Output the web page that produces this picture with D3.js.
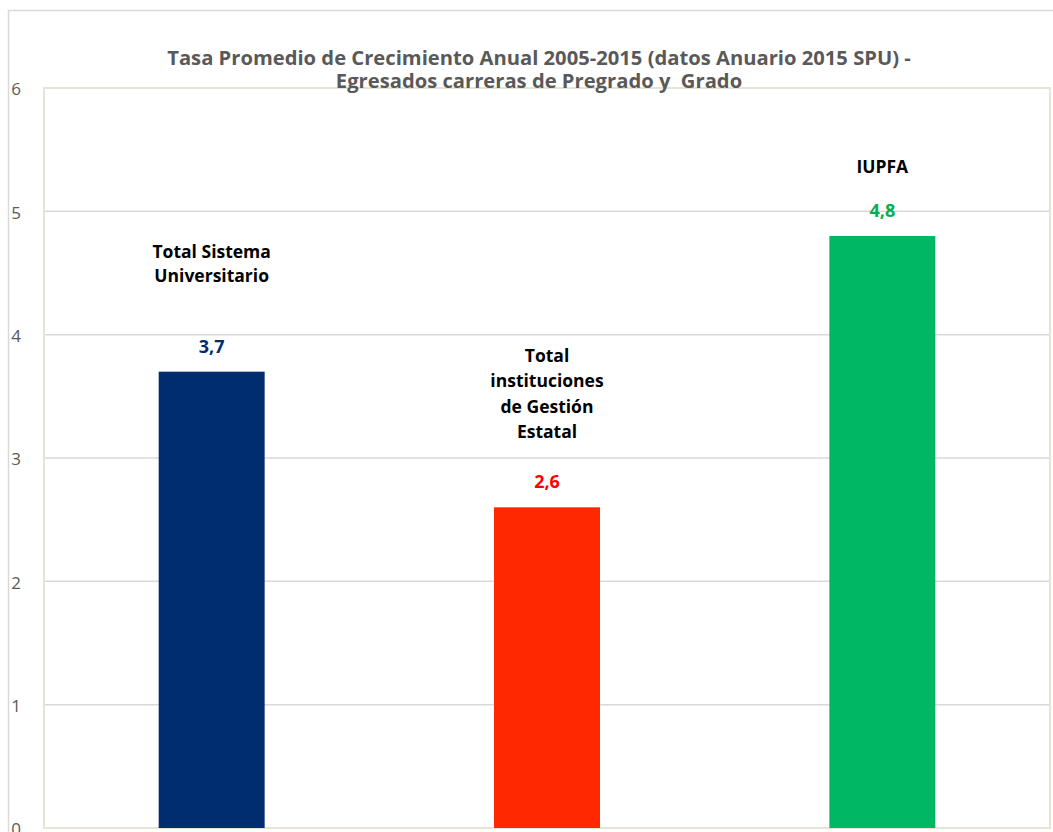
<!DOCTYPE html>
<html><head><meta charset="utf-8">
<script src="https://cdn.jsdelivr.net/npm/d3@7"></script>
<style>body{margin:0;background:#fff}svg{display:block}</style>
</head><body>
<svg id="c" width="1053" height="832"></svg>
<script>
const categories = ["Total Sistema Universitario", "Total instituciones de Gestión Estatal", "IUPFA"];
const categoryLines = [["Total Sistema", "Universitario"], ["Total", "instituciones", "de Gestión", "Estatal"], ["IUPFA"]];
const categoryLabelLevel = [4.67, 3.83, 5.36];
const values = [3.7, 2.6, 4.8];
const valueLabels = ["3,7", "2,6", "4,8"];
const barColors = ["#002d6d", "#ff2800", "#00b863"];
const labelColors = ["#002d6d", "#ff0000", "#00b050"];
const yTicks = [0, 1, 2, 3, 4, 5, 6];
const titleLines = ["Tasa Promedio de Crecimiento Anual 2005-2015 (datos Anuario 2015 SPU) -", "Egresados carreras de Pregrado y  Grado"];

const svg = d3.select("#c");
const font = "'Open Sans', sans-serif";
const plot = {left: 44, right: 1050, top: 88, bottom: 828};

svg.append("path").attr("d", "M8.5,832 V10.5 H1053").attr("fill", "none").attr("stroke", "#d9d9d9").attr("stroke-width", 1.5);

const x = d3.scaleBand().domain(categories).range([plot.left, plot.right]).paddingInner(0.684).paddingOuter(0.342);
const y = d3.scaleLinear().domain([0, 6]).range([plot.bottom, plot.top]);

svg.append("g").selectAll("line").data(yTicks.filter(t => t > 0 && t < 6)).join("line")
  .attr("x1", plot.left).attr("x2", plot.right)
  .attr("y1", d => y(d)).attr("y2", d => y(d))
  .attr("stroke", "#d9d9d9").attr("stroke-width", 1.5);

svg.append("rect").attr("x", plot.left).attr("y", plot.top)
  .attr("width", plot.right - plot.left).attr("height", plot.bottom - plot.top)
  .attr("fill", "none").attr("stroke", "#e8e4d4").attr("stroke-width", 2);

const yAxis = d3.axisLeft(y).tickValues(yTicks).tickSize(0).tickFormat(d3.format("d"));
const gy = svg.append("g").attr("transform", "translate(21,0)").call(yAxis);
gy.select(".domain").remove();
gy.selectAll("text").attr("x", 0).attr("text-anchor", "end")
  .attr("font-family", font).attr("font-size", 17).attr("fill", "#595959").attr("dy", "0.4em");

svg.append("g").selectAll("rect").data(categories).join("rect")
  .attr("x", d => x(d)).attr("width", x.bandwidth())
  .attr("y", (d, i) => y(values[i])).attr("height", (d, i) => y(0) - y(values[i]))
  .attr("fill", (d, i) => barColors[i]);

svg.append("g").selectAll("text").data(categories).join("text")
  .attr("x", d => x(d) + x.bandwidth() / 2)
  .attr("y", (d, i) => y(values[i]) - 19)
  .attr("text-anchor", "middle").attr("font-family", font).attr("font-weight", "bold")
  .attr("font-size", 18).attr("fill", (d, i) => labelColors[i])
  .text((d, i) => valueLabels[i]);

const lineH = [24, 25.5, 24];
categories.forEach((c, i) => {
  const lines = categoryLines[i];
  const top = y(categoryLabelLevel[i]);
  const t = svg.append("text").attr("text-anchor", "middle").attr("font-family", font)
    .attr("font-weight", "bold").attr("font-size", 17.5).attr("fill", "#000");
  lines.forEach((ln, j) => {
    t.append("tspan").attr("x", x(c) + x.bandwidth() / 2)
      .attr("y", top + j * lineH[i]).attr("dy", "0.36em").text(ln);
  });
});

const tt = svg.append("text").attr("text-anchor", "middle").attr("font-family", font)
  .attr("font-weight", "bold").attr("font-size", 20.2).attr("fill", "#595959")
  .style("white-space", "pre");
titleLines.forEach((ln, j) => tt.append("tspan").attr("x", 539).attr("y", 64.5 + j * 23).text(ln));
</script>
</body></html>
